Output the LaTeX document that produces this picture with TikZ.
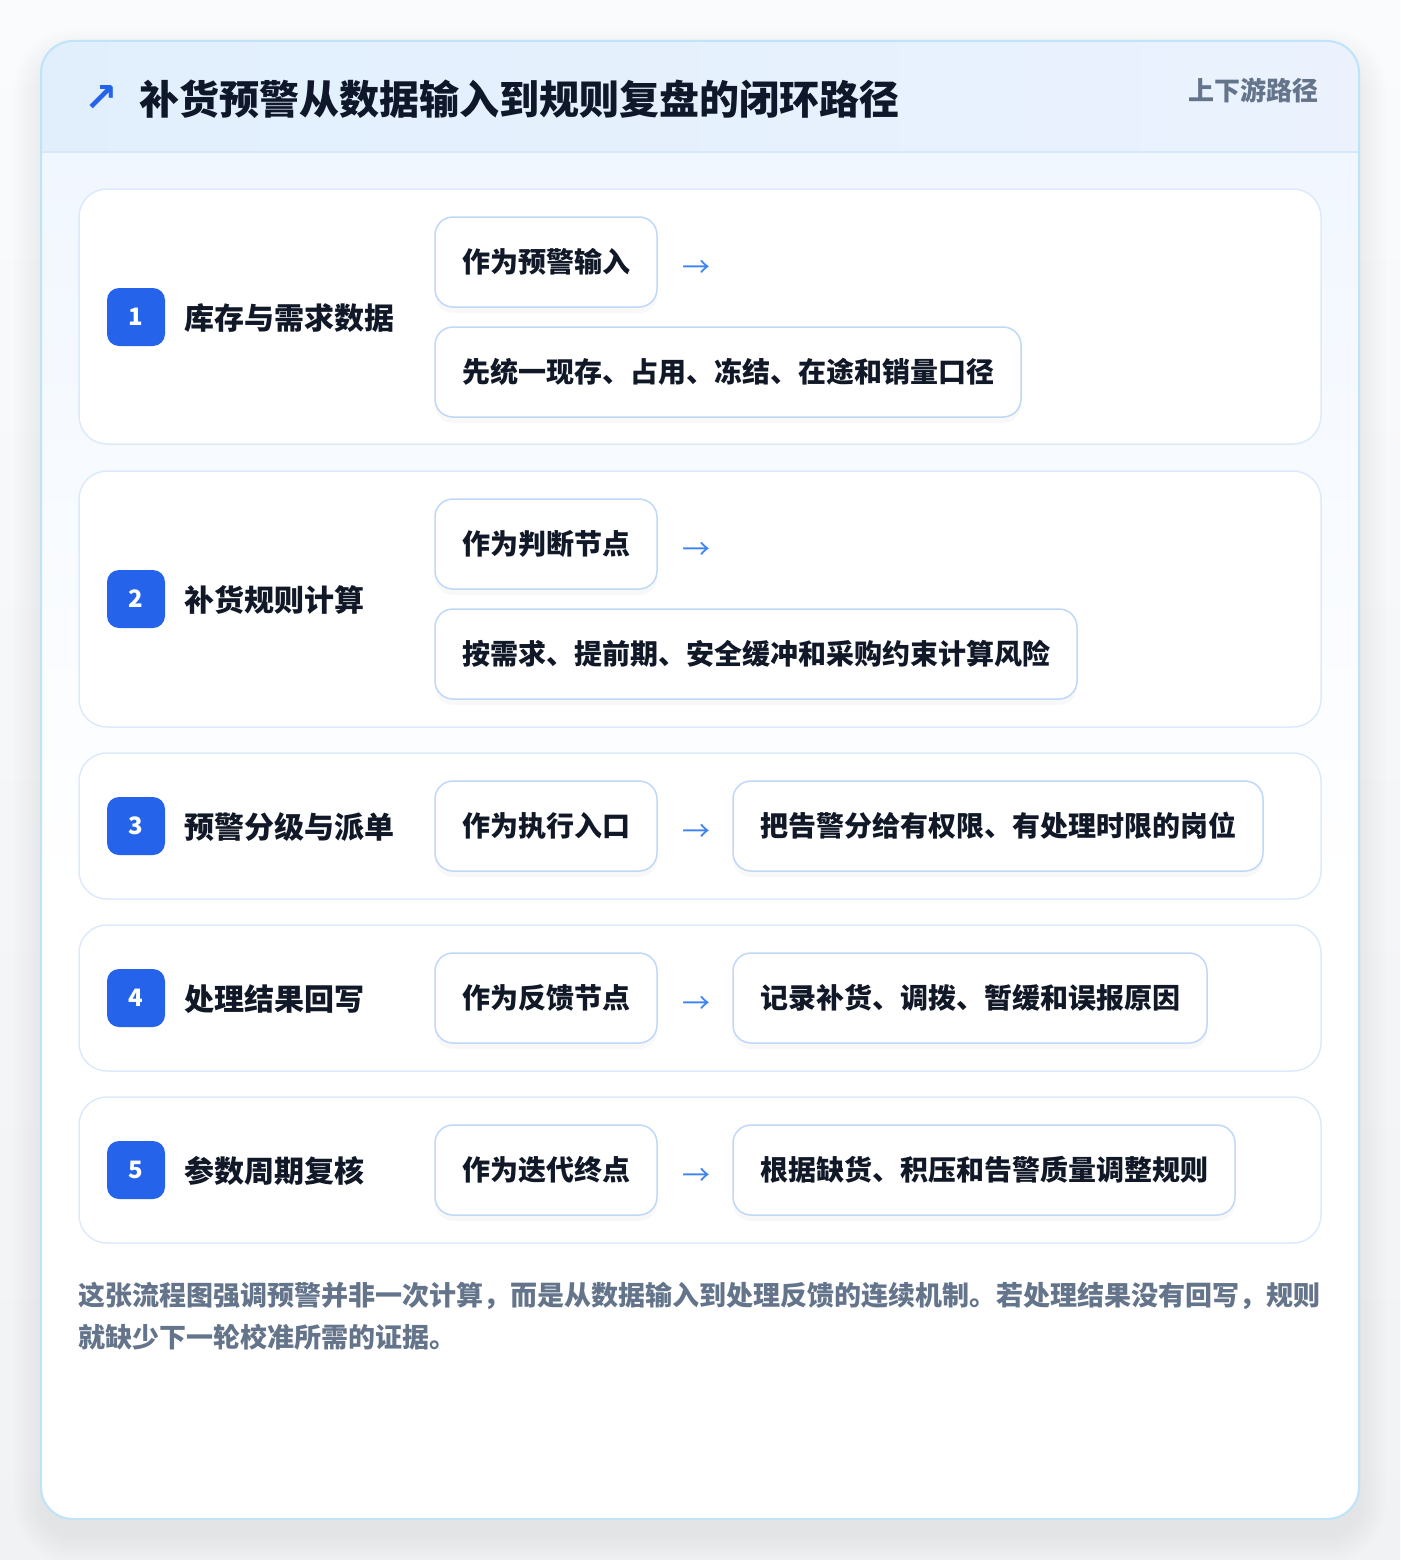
\documentclass[tikz,border=0pt]{standalone}
\usepackage{fontspec}
\setmainfont{Noto Sans CJK SC}
\newfontfamily\dejavu{DejaVu Sans}
\usetikzlibrary{shadows}
\definecolor{pagetop}{HTML}{FAFBFC}
\definecolor{pagebot}{HTML}{F1F2F4}
\definecolor{cardb}{HTML}{BFE3F8}
\definecolor{hdrA}{HTML}{E1EFFD}
\definecolor{hdrB}{HTML}{EBF2FE}
\definecolor{hdrline}{HTML}{D8E8FA}
\definecolor{bodytop}{HTML}{F1F7FF}
\definecolor{rowb}{HTML}{DCEAFB}
\definecolor{chipb}{HTML}{BFD8F8}
\definecolor{badge}{HTML}{2563EB}
\definecolor{arrowc}{HTML}{3B82F6}
\definecolor{titlec}{HTML}{0F172A}
\definecolor{txtc}{HTML}{111827}
\definecolor{mutec}{HTML}{64748B}
\begin{document}
\begin{tikzpicture}[x=1pt,y=-1pt,
  rowbox/.style={draw=rowb,line width=1.5pt,fill=white,rounded corners=28pt,minimum height=#1,minimum width=1242pt,inner sep=0pt},
  chipbox/.style={draw=chipb,line width=1.5pt,fill=white,rounded corners=18pt,minimum height=90pt,minimum width=#1,inner sep=0pt,
    font=\fontsize{28}{34}\selectfont\bfseries,text=txtc,
    drop shadow={opacity=0.05,shadow xshift=0pt,shadow yshift=-6pt}},
  badgebox/.style={fill=badge,rounded corners=12pt,minimum size=58pt,inner sep=0pt,text=white,font=\fontsize{24}{28}\selectfont\bfseries},
  rowlabel/.style={anchor=west,inner sep=0pt,text=txtc,font=\fontsize{30}{36}\selectfont\bfseries},
  arrowtxt/.style={inner sep=0pt,text=arrowc,font=\fontsize{28}{30}\selectfont},
  foot/.style={anchor=west,inner sep=0pt,text=mutec,font=\fontsize{27}{32}\selectfont\bfseries}
]
\useasboundingbox (0,0) rectangle (1400,1560);
\shade[top color=pagetop,bottom color=pagebot] (0,0) rectangle (1400,1560);
% card shadow
\foreach \i in {1,...,14}{
  \fill[black,opacity=0.005,rounded corners={32+2*\i}] ({41-2*\i},{41-2*\i+16}) rectangle ({1359+2*\i},{1519+2*\i+16});
}
% card body
\begin{scope}
\clip[rounded corners=32pt] (41,41) rectangle (1359,1519);
\fill[white] (41,41) rectangle (1359,1519);
\shade[top color=bodytop,bottom color=white] (41,152) rectangle (1359,900);
\shade[left color=hdrA,right color=hdrB] (41,41) rectangle (1359,152);
\draw[hdrline,line width=1.5pt] (41,152) -- (1359,152);
\end{scope}
\draw[cardb,line width=2pt,rounded corners=32pt] (41,41) rectangle (1359,1519);

% header
\node[inner sep=0pt,text=badge,font=\dejavu\fontsize{40}{44}\selectfont\bfseries] (hdrarrow) at (101,99) {↗};
\node[anchor=west,inner sep=0pt,text=titlec,font=\fontsize{40}{48}\selectfont\bfseries] (title) at (139,99) {补货预警从数据输入到规则复盘的闭环路径};
\node[anchor=east,inner sep=0pt,text=mutec,font=\fontsize{26}{30}\selectfont\bfseries] (tag) at (1319,90) {上下游路径};

% row 1
\node[rowbox=255pt] (r1) at (700,316.5) {};
\node[badgebox] (b1) at (136,317) {1};
\node[rowlabel] (l1) at (184,318) {库存与需求数据};
\node[chipbox=222pt] (c1a) at (546,262) {作为预警输入};
\node[arrowtxt] (a1) at (696,269) {→};
\node[chipbox=586pt] (c1b) at (728,372) {先统一现存、占用、冻结、在途和销量口径};

% row 2
\node[rowbox=256pt] (r2) at (700,599) {};
\node[badgebox] (b2) at (136,599) {2};
\node[rowlabel] (l2) at (184,600) {补货规则计算};
\node[chipbox=222pt] (c2a) at (546,544) {作为判断节点};
\node[arrowtxt] (a2) at (696,551) {→};
\node[chipbox=642pt] (c2b) at (756,654) {按需求、提前期、安全缓冲和采购约束计算风险};

% row 3
\node[rowbox=146pt] (r3) at (700,826) {};
\node[badgebox] (b3) at (136,826) {3};
\node[rowlabel] (l3) at (184,827) {预警分级与派单};
\node[chipbox=222pt] (c3a) at (546,826) {作为执行入口};
\node[arrowtxt] (a3) at (696,833) {→};
\node[chipbox=530pt] (c3b) at (998,826) {把告警分给有权限、有处理时限的岗位};

% row 4
\node[rowbox=146pt] (r4) at (700,998) {};
\node[badgebox] (b4) at (136,998) {4};
\node[rowlabel] (l4) at (184,999) {处理结果回写};
\node[chipbox=222pt] (c4a) at (546,998) {作为反馈节点};
\node[arrowtxt] (a4) at (696,1005) {→};
\node[chipbox=474pt] (c4b) at (970,998) {记录补货、调拨、暂缓和误报原因};

% row 5
\node[rowbox=146pt] (r5) at (700,1170) {};
\node[badgebox] (b5) at (136,1170) {5};
\node[rowlabel] (l5) at (184,1171) {参数周期复核};
\node[chipbox=222pt] (c5a) at (546,1170) {作为迭代终点};
\node[arrowtxt] (a5) at (696,1177) {→};
\node[chipbox=502pt] (c5b) at (984,1170) {根据缺货、积压和告警质量调整规则};

% footer
\node[foot] (f1) at (78,1296) {这张流程图强调预警并非一次计算，而是从数据输入到处理反馈的连续机制。若处理结果没有回写，规则};
\node[foot] (f2) at (78,1337) {就缺少下一轮校准所需的证据。};
\end{tikzpicture}
\end{document}
